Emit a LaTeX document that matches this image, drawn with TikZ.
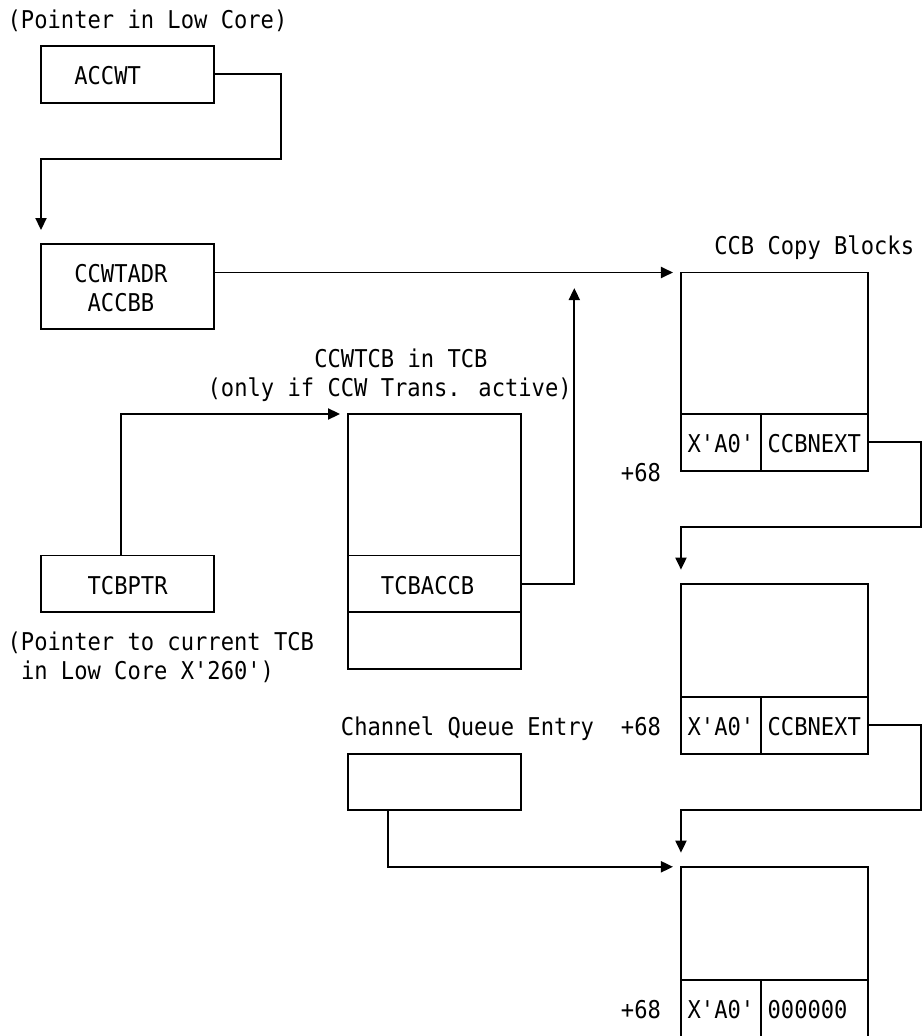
\documentclass[tikz,border=0pt]{standalone}
\usepackage{fontspec}
\newfontfamily\monofont[FakeStretch=0.903]{DejaVu Sans Mono}
\usetikzlibrary{arrows.meta,fit}
\begin{document}
\begin{tikzpicture}[x=13.333pt, y=-28.3pt, line width=1.9pt,
  box/.style={draw, inner sep=0pt, outer sep=0pt},
  arr/.style={-{Triangle[length=12pt,width=11pt]}},
  lbl/.style={anchor=base west, inner sep=0pt, outer sep=0pt,
    font=\monofont\fontsize{24.5pt}{28pt}\selectfont, yshift=-10.4pt}]
\useasboundingbox (-3.0751,-14.629) rectangle (66.152,21.979);

% boxes
\node[box, fit={(0,-13) (13,-11)}] (accwt) {};
\node[box, fit={(0,-6) (13,-3)}] (ccwtadr) {};
\node[box, fit={(0,5) (13,7)}] (tcbptr) {};
\node[box, fit={(23,0) (36,5)}] (tcbtop) {};
\node[box, fit={(23,5) (36,7)}] (tcbmid) {};
\node[box, fit={(23,7) (36,9)}] (tcbbot) {};
\node[box, fit={(48,-5) (62,0)}] (ccbAtop) {};
\node[box, fit={(48,0) (54,2)}] (ccbAl) {};
\node[box, fit={(54,0) (62,2)}] (ccbAr) {};
\node[box, fit={(48,6) (62,10)}] (ccbBtop) {};
\node[box, fit={(48,10) (54,12)}] (ccbBl) {};
\node[box, fit={(54,10) (62,12)}] (ccbBr) {};
\node[box, fit={(23,12) (36,14)}] (cqe) {};
\node[box, fit={(48,16) (62,20)}] (ccbCtop) {};
\node[box, fit={(48,20) (54,22)}] (ccbCl) {};
\node[box, fit={(54,20) (62,22)}] (ccbCr) {};

% labels
\node[lbl] (t1) at (-2.5,-14) {(Pointer in Low Core)};
\node[lbl] (t2) at (2.5,-12) {ACCWT};
\node[lbl] (t3) at (2.5,-5) {CCWTADR};
\node[lbl] (t4) at (3.5,-4) {ACCBB};
\node[lbl] (t5) at (50.5,-6) {CCB Copy Blocks};
\node[lbl] (t6) at (20.5,-2) {CCWTCB in TCB};
\node[lbl] (t7) at (12.5,-1) {(only if CCW Trans. active)};
\node[lbl] (t8) at (48.5,1) {X'A0'};
\node[lbl] (t9) at (54.5,1) {CCBNEXT};
\node[lbl] (t10) at (43.5,2) {+68};
\node[lbl] (t11) at (3.5,6) {TCBPTR};
\node[lbl] (t12) at (25.5,6) {TCBACCB};
\node[lbl] (t13) at (-2.5,8) {(Pointer to current TCB};
\node[lbl] (t14) at (-1.5,9) {in Low Core X'260')};
\node[lbl] (t15) at (22.5,11) {Channel Queue Entry};
\node[lbl] (t16) at (43.5,11) {+68};
\node[lbl] (t17) at (48.5,11) {X'A0'};
\node[lbl] (t18) at (54.5,11) {CCBNEXT};
\node[lbl] (t19) at (43.5,21) {+68};
\node[lbl] (t20) at (48.5,21) {X'A0'};
\node[lbl] (t21) at (54.5,21) {000000};

% connectors
\coordinate (uptip) at (40,-4.45);
\draw[arr] (accwt.east) -| (18,-9) -| ([yshift=14.15pt]ccwtadr.north west);
\draw[arr] (ccwtadr.east |- ccbAtop.north) -- ([xshift=-8pt]ccbAtop.north west);
\draw[arr] ([xshift=-6.67pt]tcbptr.north) |- ([xshift=-7.6pt]tcbtop.north west);
\draw[arr] (tcbmid.east) -| (uptip);
\draw[arr] (ccbAr.east) -| (66,4) -| ([yshift=14.15pt]ccbBtop.north west);
\draw[arr] (ccbBr.east) -| (66,14) -| ([yshift=14.15pt]ccbCtop.north west);
\draw[arr] ([xshift=40pt]cqe.south west) |- ([xshift=-8pt]ccbCtop.north west);
\end{tikzpicture}
\end{document}
